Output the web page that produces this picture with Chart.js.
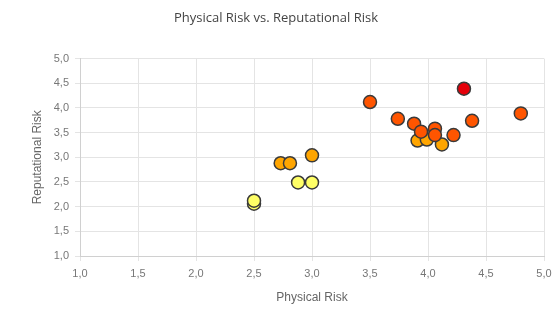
<!DOCTYPE html>
<html>
<head>
<meta charset="utf-8">
<script src="https://cdn.jsdelivr.net/npm/chart.js@4/dist/chart.umd.min.js"></script>
<style>
html,body{margin:0;padding:0;background:#fff;overflow:hidden;}
#wrap{width:552px;height:311px;position:relative;}
</style>
</head>
<body>
<div id="wrap"><canvas id="c" width="552" height="311"></canvas></div>
<script>
// Data
const physicalRisk     = [2.50, 2.50, 2.88, 3.00, 2.73, 2.81, 3.00, 3.91, 3.99, 4.12, 3.50, 3.74, 3.88, 3.94, 4.06, 4.06, 4.22, 4.38, 4.80, 4.31];
const reputationalRisk = [2.06, 2.12, 2.49, 2.49, 2.88, 2.88, 3.04, 3.34, 3.36, 3.26, 4.12, 3.78, 3.68, 3.52, 3.58, 3.45, 3.45, 3.74, 3.89, 4.39];
const riskLevel        = ["low","low","low","low","medium","medium","medium","medium","medium","medium","high","high","high","high","high","high","high","high","high","critical"];
const levelColors = {low:"#FFFF66", medium:"#FFA500", high:"#FF5500", critical:"#E5000A"};
const tickValues = [1.0,1.5,2.0,2.5,3.0,3.5,4.0,4.5,5.0];

const points = physicalRisk.map((x,i)=>({x:x, y:reputationalRisk[i]}));
const fmt = v => v.toFixed(1).replace('.', ',');

new Chart(document.getElementById('c'), {
  type: 'scatter',
  data: {
    datasets: [{
      data: points,
      backgroundColor: riskLevel.map(l=>levelColors[l]),
      borderColor: '#3a3a3a',
      borderWidth: 1.5,
      pointRadius: 6.5,
      pointHoverRadius: 6.5
    }]
  },
  options: {
    responsive: false,
    animation: false,
    devicePixelRatio: 1,
    layout: {padding: {left: 0, right: 0, top: 0, bottom: 0}},
    plugins: {
      legend: {display: false},
      tooltip: {enabled: false},
      title: {
        display: true,
        text: 'Physical Risk vs. Reputational Risk',
        color: '#444',
        font: {family: '"Open Sans"', size: 13, weight: 'normal'},
        padding: {top: 10, bottom: 33}
      }
    },
    scales: {
      x: {
        type: 'linear', min: 1, max: 5,
        afterBuildTicks: s => { s.ticks = tickValues.map(v=>({value:v})); },
        afterFit: s => { s.paddingRight = 6; s.paddingLeft = 0; s.height = 55; },
        ticks: {color: '#777', font: {family: '"Liberation Sans"', size: 11}, callback: v => fmt(v), padding: 6, maxRotation: 0},
        grid: {color: '#e4e4e4', tickLength: 5},
        border: {color: '#d0d0d0'},
        title: {display: true, text: 'Physical Risk', color: '#666', font: {family: '"Liberation Sans"', size: 12}, padding: {top: 6, bottom: 6}}
      },
      y: {
        type: 'linear', min: 1, max: 5,
        afterBuildTicks: s => { s.ticks = tickValues.map(v=>({value:v})); },
        afterFit: s => { s.width = 80; s.paddingTop = 0; s.paddingBottom = 0; },
        ticks: {color: '#777', font: {family: '"Liberation Sans"', size: 11}, callback: v => fmt(v), padding: 6},
        grid: {color: '#e4e4e4', tickLength: 5},
        border: {color: '#d0d0d0'},
        title: {display: true, text: 'Reputational Risk', color: '#666', font: {family: '"Liberation Sans"', size: 12}, padding: {top: 30, bottom: 4}}
      }
    }
  }
});
</script>
</body>
</html>
